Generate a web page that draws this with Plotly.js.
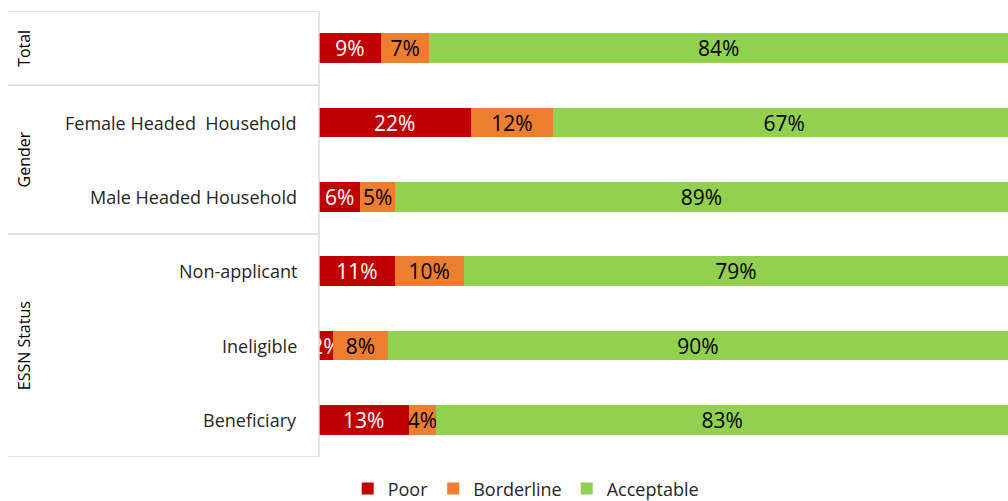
<!DOCTYPE html>
<html>
<head>
<meta charset="utf-8">
<script src="https://cdn.plot.ly/plotly-3.0.1.min.js"></script>
<style>html,body{margin:0;padding:0;background:#fff;}#chart{width:1008px;height:501px;}</style>
</head>
<body>
<div id="chart"></div>
<script>
// Data
const categories = ["Total", "Female Headed  Household", "Male Headed Household", "Non-applicant", "Ineligible", "Beneficiary"];
const tickLabels = ["", "Female Headed  Household", "Male Headed Household", "Non-applicant", "Ineligible", "Beneficiary"];
const groupNames = ["Total", "Gender", "ESSN Status"];
const groupCenters = [0, 1.5, 4];          // category positions of group label centres
const groupBounds = [-0.5, 0.5, 2.5, 5.5]; // category-position boundaries between groups
const poor = [9, 22, 6, 11, 2, 13];
const borderline = [7, 12, 5, 10, 8, 4];
const acceptable = [84, 67, 89, 79, 90, 83];
const seriesNames = ["Poor", "Borderline", "Acceptable"];
const seriesColors = ["#C00000", "#ED7D31", "#92D050"];
const textColors = ["#FFFFFF", "#000000", "#000000"];

const font = "Open Sans, Liberation Sans, Arial, sans-serif";
const yKeys = categories.map((c, i) => i);

const traces = [poor, borderline, acceptable].map((vals, k) => ({
  type: "bar",
  orientation: "h",
  name: seriesNames[k],
  x: vals,
  y: yKeys,
  marker: {color: seriesColors[k], line: {width: 0}},
  width: 0.4,
  text: vals.map(v => v + "%"),
  textposition: "inside",
  insidetextanchor: "middle",
  textangle: 0,
  constraintext: "none",
  textfont: {color: textColors[k], size: 21, family: font},
  hoverinfo: "skip"
}));

const lineColor = "#D9D9D9";
const shapes = [];
groupBounds.forEach(b => {
  shapes.push({type: "line", xref: "paper", yref: "y", x0: -0.4514, x1: 0, y0: b, y1: b,
    line: {color: lineColor, width: 1.5}});
});
shapes.push({type: "line", xref: "paper", yref: "y", x0: 0, x1: 0, y0: -0.5, y1: 5.5,
  line: {color: lineColor, width: 1.5}});

const annotations = [];
tickLabels.forEach((c, i) => {
  if (!c) return;
  annotations.push({xref: "paper", yref: "y", x: -0.029, y: i, text: c, showarrow: false,
    xanchor: "right", yanchor: "middle", font: {family: font, size: 18, color: "#262626"}});
});
groupNames.forEach((g, i) => {
  annotations.push({xref: "paper", yref: "y", x: -0.4285, y: groupCenters[i], text: g, showarrow: false,
    textangle: -90, xanchor: "center", yanchor: "middle", font: {family: font, size: 16, color: "#000000"}});
});

const layout = {
  width: 1008, height: 501,
  margin: {l: 319, r: 0, t: 11, b: 44, autoexpand: false},
  paper_bgcolor: "#FFFFFF", plot_bgcolor: "#FFFFFF",
  barmode: "stack",
  showlegend: true,
  legend: {orientation: "h", x: 0.3, xanchor: "center", y: -0.03, yanchor: "top",
    font: {family: font, size: 18, color: "#262626"}, traceorder: "normal", itemwidth: 30},
  xaxis: {range: [0, 100], showgrid: false, zeroline: false, showticklabels: false, ticks: "", fixedrange: true},
  yaxis: {range: [5.5, -0.5], showgrid: false, zeroline: false, showticklabels: false, ticks: "", fixedrange: true},
  shapes: shapes,
  annotations: annotations,
  font: {family: font}
};

Plotly.newPlot("chart", traces, layout, {displayModeBar: false, staticPlot: true});
</script>
</body>
</html>
